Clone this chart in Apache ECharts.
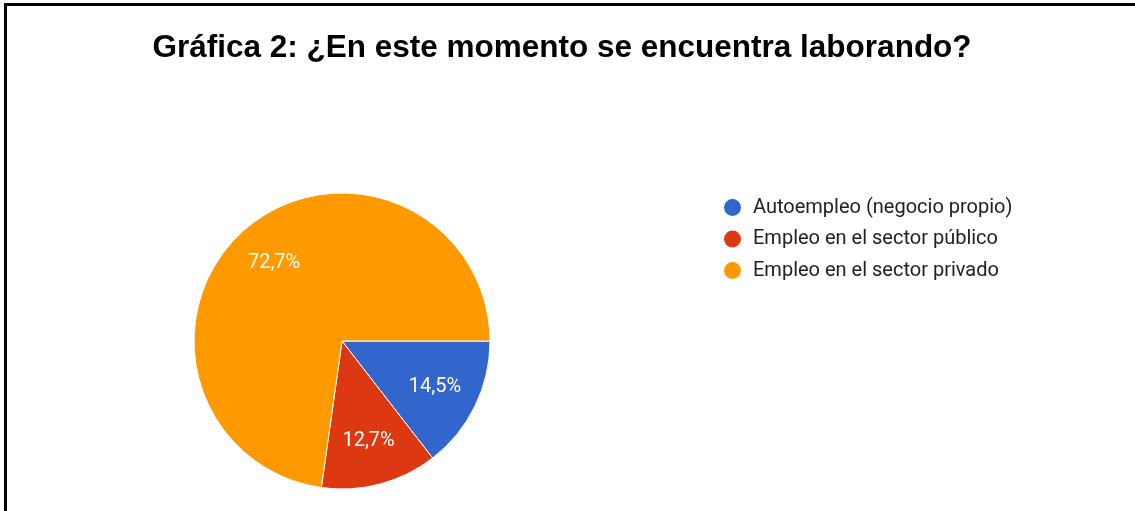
<!DOCTYPE html>
<html>
<head>
<meta charset="utf-8">
<script src="https://cdn.jsdelivr.net/npm/echarts@6/dist/echarts.min.js"></script>
<style>
  html, body { margin: 0; padding: 0; background: #fff; }
  #frame {
    position: absolute; left: 4px; top: 3px; width: 1140px; height: 520px;
    border-top: 3px solid #000; border-left: 3px solid #000;
  }
  #chart { position: absolute; left: 0; top: 0; width: 1135px; height: 511px; }
</style>
</head>
<body>
<div id="frame"></div>
<div id="chart"></div>
<script>
// datos de la gráfica
var titleText = 'Gráfica 2: ¿En este momento se encuentra laborando?';
var categories = ['Autoempleo (negocio propio)', 'Empleo en el sector público', 'Empleo en el sector privado'];
var values = [14.5, 12.7, 72.7];
var colors = ['#3366cc', '#dc3912', '#ff9900'];

var pieData = categories.map(function (name, i) {
  return { name: name, value: values[i] };
});

var chart = echarts.init(document.getElementById('chart'));

chart.setOption({
  animation: false,
  color: colors,
  title: {
    text: titleText,
    left: 562,
    top: 32,
    padding: 0,
    textAlign: 'center',
    textStyle: {
      fontFamily: 'Liberation Sans, Arial, sans-serif',
      fontWeight: 'bold',
      fontSize: 31.5,
      color: '#000'
    }
  },
  legend: {
    orient: 'vertical',
    left: 722,
    top: 197,
    icon: 'circle',
    itemWidth: 19,
    itemHeight: 19,
    itemGap: 10.5,
    padding: 0,
    data: categories,
    textStyle: {
      fontFamily: 'Roboto, sans-serif',
      fontSize: 20,
      lineHeight: 20,
      color: '#222',
      padding: [0, 0, 0, 6]
    }
  },
  series: [
    {
      // porciones
      type: 'pie',
      center: [342, 341],
      radius: 148,
      startAngle: 0,
      clockwise: true,
      silent: true,
      label: { show: false },
      labelLine: { show: false },
      itemStyle: { borderColor: '#fff', borderWidth: 1 },
      data: pieData
    },
    {
      // etiquetas de porcentaje
      type: 'pie',
      center: [342, 341],
      radius: [53, 148],
      startAngle: 0,
      clockwise: true,
      silent: true,
      itemStyle: { color: 'rgba(0,0,0,0)' },
      labelLine: { show: false },
      label: {
        show: true,
        position: 'inside',
        fontFamily: 'Roboto, sans-serif',
        fontSize: 20,
        color: '#fff',
        formatter: function (p) {
          return String(p.value).replace('.', ',') + '%';
        }
      },
      data: pieData
    }
  ]
});
</script>
</body>
</html>
